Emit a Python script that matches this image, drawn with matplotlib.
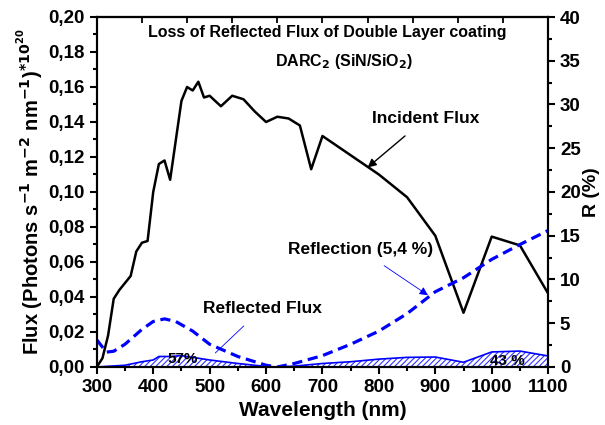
import matplotlib.pyplot as plt
from matplotlib.ticker import MultipleLocator, FuncFormatter

plt.rcParams["font.family"] = ["Liberation Sans", "DejaVu Sans"]
plt.rcParams["font.weight"] = "bold"
plt.rcParams["hatch.color"] = "#3333ff"
plt.rcParams["hatch.linewidth"] = 0.8

# Incident flux (x1e20 photons s-1 m-2 nm-1)
inc_wl = [300, 310, 320, 330, 340, 350, 360, 370, 380, 390, 400, 410, 420, 430,
          450, 460, 470, 480, 490, 500, 520, 540, 560, 580, 600, 620, 640, 660,
          680, 700, 750, 800, 850, 900, 950, 1000, 1050, 1100]
inc_flux = [0.000, 0.005, 0.018, 0.039, 0.044, 0.048, 0.052, 0.066, 0.071, 0.072,
            0.100, 0.116, 0.118, 0.107, 0.152, 0.160, 0.158, 0.163, 0.154, 0.155,
            0.149, 0.155, 0.153, 0.146, 0.140, 0.143, 0.142, 0.138, 0.113, 0.132,
            0.121, 0.110, 0.097, 0.075, 0.031, 0.0745, 0.0695, 0.042]

# Reflection of the DARC (%)
ref_wl = [300, 317, 330, 350, 380, 400, 420, 440, 470, 500, 550, 600, 620, 650,
          700, 750, 800, 850, 900, 950, 1000, 1050, 1100]
ref_pct = [3.1, 1.7, 1.8, 2.6, 4.3, 5.2, 5.5, 5.2, 4.1, 2.6, 1.2, 0.2, 0.0, 0.4,
           1.3, 2.6, 4.1, 6.1, 8.6, 10.2, 12.3, 14.0, 15.6]

# Reflected flux (x1e20)
rf_wl = [300, 350, 380, 400, 410, 430, 450, 470, 500, 550, 600, 620, 650, 700,
         750, 800, 850, 900, 950, 1000, 1050, 1100]
rf_flux = [0.000, 0.001, 0.003, 0.004, 0.006, 0.006, 0.0065, 0.0055, 0.004, 0.002,
           0.0003, 0.000, 0.0005, 0.002, 0.003, 0.0045, 0.0055, 0.0057, 0.0027,
           0.0086, 0.0091, 0.0063]

fig = plt.figure(figsize=(6.05, 4.25), dpi=100)
ax = fig.add_axes([0.160, 0.1365, 0.746, 0.8235])
ax2 = ax.twinx()
top = ax.secondary_xaxis("top")

blue = "#0000ff"
ax.fill_between(rf_wl, rf_flux, 0, facecolor="white", edgecolor="#3333ff",
                hatch="//////", linewidth=0, zorder=2)
ax.plot(rf_wl, rf_flux, color=blue, lw=1.2, zorder=3)
ax.plot(inc_wl, inc_flux, color="black", lw=1.8, zorder=4)
ax2.plot(ref_wl, ref_pct, color=blue, lw=2.3, dashes=(3.2, 1.8))

ax.set_xlim(300, 1100)
ax.set_ylim(0, 0.20)
ax2.set_ylim(0, 40)

ax.xaxis.set_major_locator(MultipleLocator(100))
ax.xaxis.set_minor_locator(MultipleLocator(50))
ax.yaxis.set_major_locator(MultipleLocator(0.02))
ax.yaxis.set_minor_locator(MultipleLocator(0.01))
ax.yaxis.set_major_formatter(FuncFormatter(lambda v, p: f"{v:.2f}".replace(".", ",")))
ax2.yaxis.set_major_locator(MultipleLocator(5))
ax2.yaxis.set_minor_locator(MultipleLocator(2.5))

top.set_xticks(range(300, 1101, 80))
top.tick_params(direction="in", length=4, width=1.3, labeltop=False)
top.spines["top"].set_linewidth(1.5)

ax.tick_params(axis="both", which="both", direction="out", width=1.5, labelsize=13.5)
ax.tick_params(which="major", length=5)
ax.tick_params(which="minor", length=3)
ax2.tick_params(which="both", direction="out", width=1.5, labelsize=13.5)
ax2.tick_params(which="major", length=5)
ax2.tick_params(which="minor", length=3)
for a in (ax, ax2):
    for s in a.spines.values():
        s.set_linewidth(1.5)

ax.set_xlabel("Wavelength (nm)", fontsize=15, fontweight="bold", labelpad=4)
ax.set_ylabel(r"Flux (Photons s$^{\mathbf{-1}}$ m$^{\mathbf{-2}}$ nm$^{\mathbf{-1}}$)$^{*10^{20}}$",
              fontsize=14.5, fontweight="bold", labelpad=2)
ax2.set_ylabel("R (%)", fontsize=14, fontweight="bold", labelpad=2)

ax.text(709, 0.1909, "Loss of Reflected Flux of Double Layer coating",
        fontsize=11.5, fontweight="bold", ha="center", va="center")
ax.text(738, 0.1743, r"DARC$_{\mathbf{2}}$ (SiN/SiO$_{\mathbf{2}}$)",
        fontsize=11.5, fontweight="bold", ha="center", va="center")

ax.annotate("Incident Flux", xy=(780, 0.114), xytext=(883, 0.142),
            fontsize=12.5, fontweight="bold", ha="center", va="center",
            arrowprops=dict(arrowstyle="-|>", color="black", lw=1, shrinkA=8, shrinkB=0))
ax.annotate("Reflection (5,4 %)", xy=(887, 0.041), xytext=(768, 0.0669),
            fontsize=12.5, fontweight="bold", ha="center", va="center",
            arrowprops=dict(arrowstyle="-|>", color=blue, lw=0.6, shrinkA=7, shrinkB=0))
ax.annotate("Reflected Flux", xy=(510, 0.008), xytext=(594, 0.0337),
            fontsize=12.5, fontweight="bold", ha="center", va="center",
            arrowprops=dict(arrowstyle="-", color=blue, lw=0.6, shrinkA=8, shrinkB=0))
ax.text(452, 0.0045, "57%", fontsize=11, ha="center", va="center", zorder=5)
ax.text(1027, 0.0035, "43 %", fontsize=11, ha="center", va="center", zorder=5)

fig.savefig("out.png", dpi=100)
